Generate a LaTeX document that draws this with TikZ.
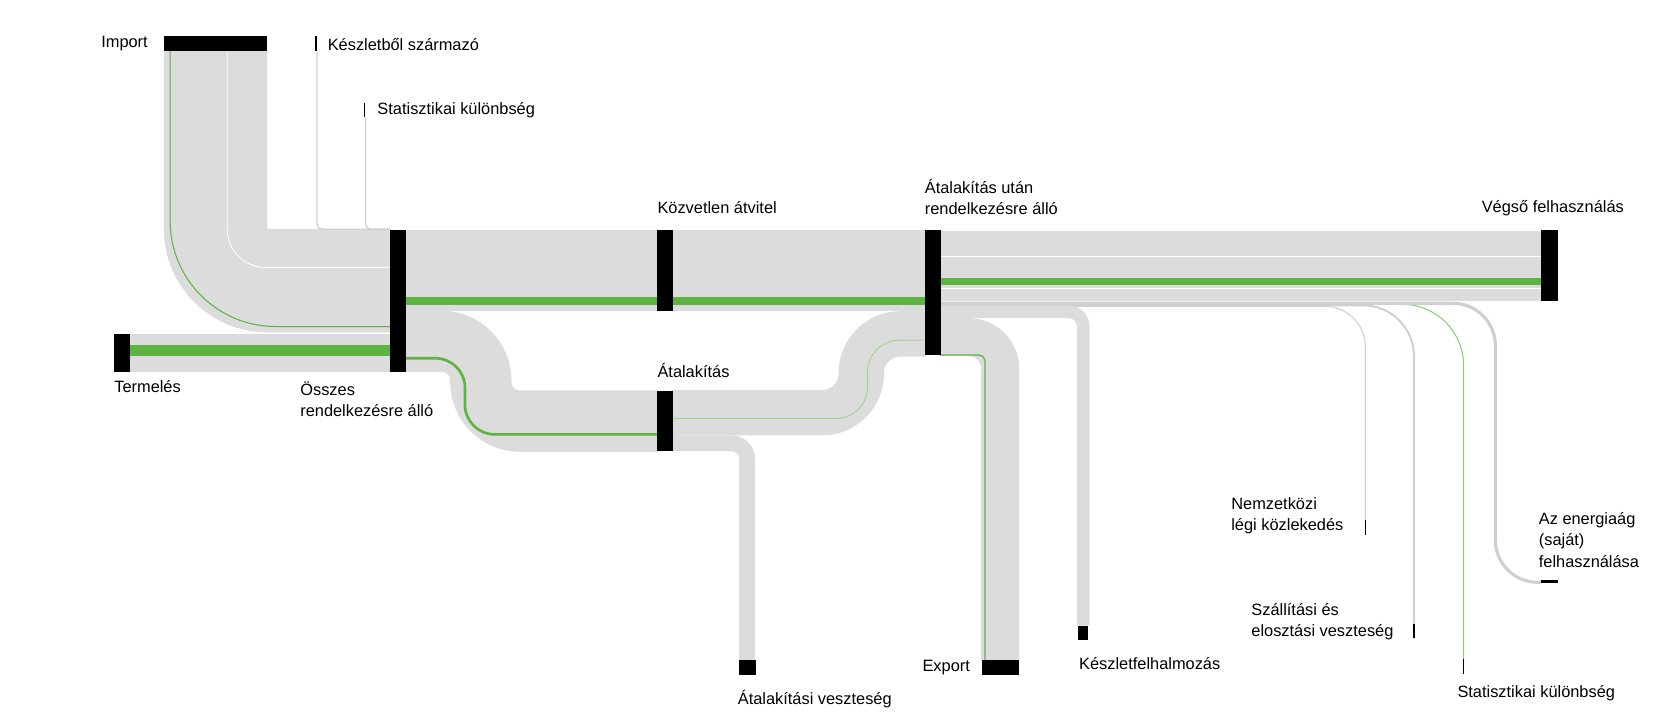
\documentclass[tikz,border=0pt]{standalone}
\usepackage{fontspec}
\setmainfont{Liberation Sans}
\begin{document}
\begin{tikzpicture}[x=1pt,y=-1pt,
  band/.style={line width=#1,color=bandgray,line cap=butt},
  gband/.style={line width=#1,color=grn,line cap=butt},
  thin/.style={line width=#1,color=thingray,line cap=butt},
  bar/.style={fill=black,inner sep=0pt,outer sep=0pt,draw=none},
  lbl/.style={font=\fontsize{15.5}{20}\selectfont,inner sep=0pt,align=left,anchor=west},
  tick/.style={fill=black,inner sep=0pt,minimum width=1.6pt,minimum height=14pt}]
\definecolor{bandgray}{HTML}{DCDCDC}
\definecolor{thingray}{HTML}{CFCFCF}
\definecolor{grn}{HTML}{5DB443}
\useasboundingbox (0,0) rectangle (1568,681);
% Import
\draw[band=98,rounded corners=49] (204,48) -- (204,265.5) -- (370,265.5);
\draw[white,line width=0.8pt,rounded corners=36] (215,48) -- (215,253) -- (369,253);
\draw[grn,line width=1pt,rounded corners=100] (161,48) -- (161,309) -- (369,309);
% small inputs
\draw[thin=1.2,rounded corners=5] (300,48) -- (300,217) -- (369,217);
\draw[thin=1.2,rounded corners=5] (346,111) -- (346,217) -- (369,217);
% Termeles
\draw[band=36] (123,334) -- (369,334);
\draw[gband=11] (123,331.5) -- (369,331.5);
% Osszes -> Kozvetlen -> After
\draw[band=76] (384,256) -- (622,256);
\draw[gband=8] (384,285) -- (622,285);
\draw[band=76] (637,256) -- (875,256);
\draw[gband=8] (637,285) -- (875,285);
% Osszes -> Atalakitas
\draw[band=58,rounded corners=37] (383,323) -- (455,323) -- (455,398.5) -- (623,398.5);
\draw[grn,line width=2.5pt,rounded corners=28] (384,339) -- (440,339) -- (440,411) -- (622,411);
% Atalakitas -> After
\draw[band=43,rounded corners=37] (636,390.5) -- (815,390.5) -- (815,316) -- (876,316);
\draw[grn!60,line width=0.8pt,rounded corners=30] (637,396) -- (821,396) -- (821,322) -- (875,322);
% Atalakitas -> loss
\draw[band=15,rounded corners=15] (636,419.5) -- (707,419.5) -- (707,625);
% After -> Final
\draw[band=66] (889,252) -- (1459,252);
\draw[white,line width=0.8pt] (890,243) -- (1458,243);
\draw[white,line width=0.6pt] (890,273) -- (1458,273);
\draw[gband=7] (890,266.5) -- (1458,266.5);
% thin outflows
\draw[thin=1,rounded corners=38] (890,290) -- (1292,290) -- (1292,492);
\draw[thin=1.8,rounded corners=48] (890,289) -- (1338,289) -- (1338,590);
\draw[grn!70,line width=1pt,rounded corners=58] (890,288) -- (1385,288) -- (1385,624);
\draw[thin=3,rounded corners=40] (890,287) -- (1415,287) -- (1415,551) -- (1458,551);
% After -> Keszlet
\draw[band=12,rounded corners=14] (889,295) -- (1025,295) -- (1025,592);
% After -> Export
\draw[band=36,rounded corners=30] (889,319) -- (946.5,319) -- (946.5,625);
\draw[grn,line width=1.2pt,rounded corners=6] (890,336) -- (932,336) -- (932,625);
% bars
\node[bar,minimum width=98pt,minimum height=14pt] (import) at (204,41) {};
\node[bar,minimum width=15pt,minimum height=36pt] (termeles) at (115.5,334) {};
\node[bar,minimum width=15pt,minimum height=134pt] (osszes) at (376.5,285) {};
\node[bar,minimum width=15pt,minimum height=76pt] (kozvetlen) at (629.5,256) {};
\node[bar,minimum width=15pt,minimum height=57pt] (atal) at (629.5,398.5) {};
\node[bar,minimum width=15pt,minimum height=118pt] (utan) at (882.5,277) {};
\node[bar,minimum width=16pt,minimum height=67pt] (vegso) at (1466,251.5) {};
\node[bar,minimum width=16pt,minimum height=14pt] (veszt) at (707,632) {};
\node[bar,minimum width=35pt,minimum height=14pt] (export) at (946.5,632) {};
\node[bar,minimum width=10pt,minimum height=14pt] (keszlet) at (1025,599) {};
\node[bar,minimum width=16pt,minimum height=3pt] (energia) at (1466,550.5) {};
\node[tick] (m1) at (299,41) {};
\node[tick] (m2) at (345,104) {};
\node[tick] (m3) at (1292,499) {};
\node[tick] (m4) at (1338,597) {};
\node[tick] (m5) at (1385,631) {};
% labels
\node[lbl,anchor=east] (l1) at (140,41) {Import};
\node[lbl] (l2) at (310,42) {Készletből származó};
\node[lbl] (l3) at (357,104) {Statisztikai különbség};
\node[lbl] (l4) at (622,196) {Közvetlen átvitel};
\node[lbl] (l5) at (875,186) {Átalakítás után\\rendelkezésre álló};
\node[lbl] (l6) at (1402,197) {Végső felhasználás};
\node[lbl] (l7) at (108,366) {Termelés};
\node[lbl] (l8) at (284,378) {Összes\\rendelkezésre álló};
\node[lbl] (l9) at (622,351) {Átalakítás};
\node[lbl] (l10) at (1165,488) {Nemzetközi\\légi közlekedés};
\node[lbl] (l11) at (1184,588) {Szállítási és\\elosztási veszteség};
\node[lbl] (l12) at (1379,656) {Statisztikai különbség};
\node[lbl] (l13) at (1456,511) {Az energiaág\\(saját)\\felhasználása};
\node[lbl,anchor=east] (l14) at (918,632) {Export};
\node[lbl] (l15) at (1021,628) {Készletfelhalmozás};
\node[lbl] (l16) at (698,662) {Átalakítási veszteség};
\end{tikzpicture}
\end{document}
